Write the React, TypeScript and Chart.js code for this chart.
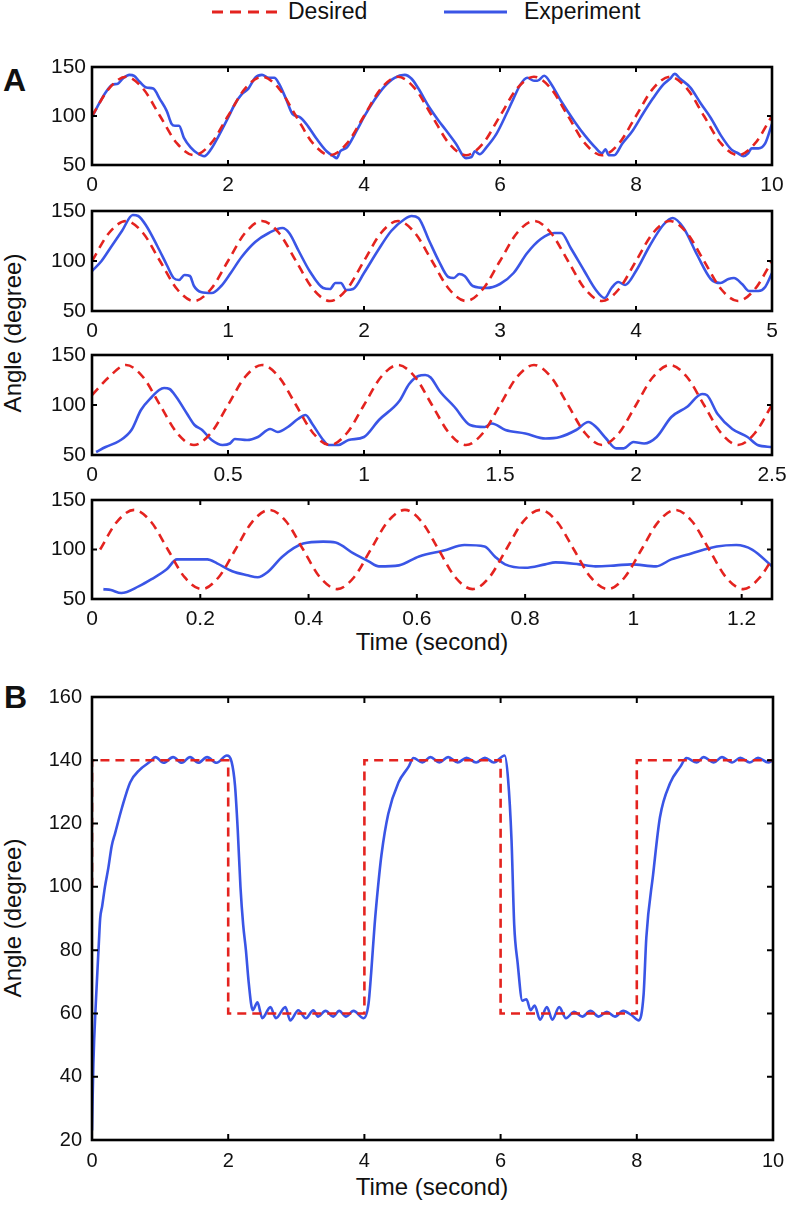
import React, { useEffect, useRef } from 'react';
import { Chart, registerables } from 'chart.js';
Chart.register(...registerables);

const RED = '#e4231f';
const BLUE = '#3a55e6';
const FONT = '"Liberation Sans", Arial, Helvetica, sans-serif';

// ---------- Panel A, row 1 (0-10 s) ----------
const A1_X_TICKS = [0, 2, 4, 6, 8, 10];
const A1_DES_T = [0, 0.25, 0.5, 0.75, 1, 1.25, 1.5, 1.75, 2, 2.25, 2.5, 2.75, 3, 3.25, 3.5, 3.75, 4, 4.25, 4.5, 4.75, 5, 5.25, 5.5, 5.75, 6, 6.25, 6.5, 6.75, 7, 7.25, 7.5, 7.75, 8, 8.25, 8.5, 8.75, 9, 9.25, 9.5, 9.75, 10];
const A1_DES_Y = [100, 128, 140, 128, 100, 72, 60, 72, 100, 128, 140, 128, 100, 72, 60, 72, 100, 128, 140, 128, 100, 72, 60, 72, 100, 128, 140, 128, 100, 72, 60, 72, 100, 128, 140, 128, 100, 72, 60, 72, 100];
const A1_EXP_T = [0, 0.1, 0.2, 0.3, 0.38, 0.45, 0.55, 0.62, 0.7, 0.8, 0.9, 1.0, 1.1, 1.17, 1.22, 1.28, 1.35, 1.45, 1.55, 1.65, 1.75, 1.85, 2.0, 2.1, 2.2, 2.3, 2.4, 2.5, 2.6, 2.68, 2.75, 2.85, 2.95, 3.05, 3.15, 3.3, 3.45, 3.55, 3.6, 3.65, 3.75, 3.9, 4.0, 4.15, 4.3, 4.45, 4.6, 4.7, 4.8, 4.95, 5.1, 5.2, 5.35, 5.5, 5.58, 5.63, 5.7, 5.8, 5.95, 6.1, 6.2, 6.3, 6.4, 6.5, 6.55, 6.65, 6.75, 6.9, 7.1, 7.25, 7.4, 7.5, 7.55, 7.6, 7.68, 7.8, 7.95, 8.1, 8.25, 8.4, 8.5, 8.57, 8.65, 8.8, 8.95, 9.1, 9.25, 9.4, 9.5, 9.58, 9.65, 9.7, 9.8, 9.9, 10];
const A1_EXP_Y = [99, 112, 124, 132, 133, 138, 142, 141, 135, 129, 128, 117, 105, 92, 90, 90, 78, 68, 62, 59, 66, 78, 98, 112, 122, 128, 139, 142, 139, 139, 133, 118, 102, 99, 92, 77, 64, 59, 57, 64, 68, 86, 99, 116, 130, 139, 142, 138, 128, 110, 95, 86, 72, 57, 58, 64, 61, 68, 82, 103, 118, 132, 139, 136, 136, 141, 133, 115, 94, 80, 68, 62, 66, 60, 60, 72, 85, 102, 118, 132, 138, 143, 138, 129, 113, 98, 80, 66, 62, 59, 62, 67, 67, 72, 92];

// ---------- Panel A, row 2 (0-5 s) ----------
const A2_X_TICKS = [0, 1, 2, 3, 4, 5];
const A2_DES_T = [0, 0.125, 0.25, 0.375, 0.5, 0.625, 0.75, 0.875, 1, 1.125, 1.25, 1.375, 1.5, 1.625, 1.75, 1.875, 2, 2.125, 2.25, 2.375, 2.5, 2.625, 2.75, 2.875, 3, 3.125, 3.25, 3.375, 3.5, 3.625, 3.75, 3.875, 4, 4.125, 4.25, 4.375, 4.5, 4.625, 4.75, 4.875, 5];
const A2_DES_Y = [100, 128, 140, 128, 100, 72, 60, 72, 100, 128, 140, 128, 100, 72, 60, 72, 100, 128, 140, 128, 100, 72, 60, 72, 100, 128, 140, 128, 100, 72, 60, 72, 100, 128, 140, 128, 100, 72, 60, 72, 100];
const A2_EXP_T = [0, 0.07, 0.14, 0.22, 0.3, 0.34, 0.4, 0.48, 0.55, 0.6, 0.64, 0.68, 0.72, 0.75, 0.8, 0.88, 0.95, 1.02, 1.1, 1.2, 1.3, 1.4, 1.45, 1.52, 1.6, 1.7, 1.75, 1.79, 1.83, 1.87, 1.92, 2.0, 2.1, 2.2, 2.3, 2.35, 2.4, 2.48, 2.55, 2.62, 2.66, 2.7, 2.74, 2.8, 2.9, 3.0, 3.1, 3.2, 3.3, 3.4, 3.45, 3.52, 3.62, 3.7, 3.77, 3.82, 3.87, 3.92, 4.0, 4.1, 4.2, 4.27, 4.35, 4.45, 4.55, 4.62, 4.68, 4.72, 4.78, 4.83, 4.9, 4.95, 5.0];
const A2_EXP_Y = [90, 100, 114, 130, 146, 145, 135, 115, 96, 83, 81, 86, 85, 75, 69, 68, 75, 88, 104, 119, 128, 133, 128, 110, 90, 73, 72, 78, 78, 71, 72, 88, 110, 130, 142, 145, 143, 120, 100, 84, 83, 87, 85, 75, 73, 77, 88, 108, 122, 128, 128, 113, 90, 72, 63, 73, 79, 76, 90, 115, 136, 143, 133, 106, 82, 78, 82, 83, 77, 70, 70, 74, 88];

// ---------- Panel A, row 3 (0-2.5 s) ----------
const A3_X_TICKS = [0, 0.5, 1, 1.5, 2, 2.5];
const A3_DES_T = [0, 0.0625, 0.125, 0.1875, 0.25, 0.3125, 0.375, 0.4375, 0.5, 0.5625, 0.625, 0.6875, 0.75, 0.8125, 0.875, 0.9375, 1, 1.0625, 1.125, 1.1875, 1.25, 1.3125, 1.375, 1.4375, 1.5, 1.5625, 1.625, 1.6875, 1.75, 1.8125, 1.875, 1.9375, 2, 2.0625, 2.125, 2.1875, 2.25, 2.3125, 2.375, 2.4375, 2.5];
const A3_DES_Y = [110, 128, 140, 128, 100, 72, 60, 72, 100, 128, 140, 128, 100, 72, 60, 72, 100, 128, 140, 128, 100, 72, 60, 72, 100, 128, 140, 128, 100, 72, 60, 72, 100, 128, 140, 128, 100, 72, 60, 72, 100];
const A3_EXP_T = [0.015, 0.05, 0.1, 0.145, 0.18, 0.22, 0.247, 0.265, 0.285, 0.31, 0.35, 0.377, 0.405, 0.44, 0.48, 0.507, 0.525, 0.57, 0.61, 0.655, 0.683, 0.72, 0.757, 0.785, 0.81, 0.85, 0.87, 0.906, 0.943, 1.0, 1.055, 1.13, 1.166, 1.2, 1.225, 1.245, 1.278, 1.333, 1.39, 1.444, 1.47, 1.52, 1.593, 1.667, 1.72, 1.78, 1.825, 1.853, 1.89, 1.927, 1.955, 1.99, 2.03, 2.076, 2.13, 2.187, 2.243, 2.26, 2.3, 2.354, 2.41, 2.447, 2.5];
const A3_EXP_Y = [53, 58, 64, 75, 95, 108, 115, 117, 116, 108, 91, 80, 75, 65, 60, 61.5, 66, 65, 68, 76, 73, 78, 86, 90, 81, 65, 60, 60, 65, 68, 85, 104, 121, 129, 130, 127.5, 114, 98, 80, 78, 81.5, 75, 71.5, 66.5, 68, 75, 83, 78, 66.5, 56.6, 56.6, 63, 61.5, 68, 88, 98, 111, 110, 91, 76, 68, 60, 58];

// ---------- Panel A, row 4 (0-1.25 s) ----------
const A4_X_TICKS = [0, 0.2, 0.4, 0.6, 0.8, 1, 1.2];
const A4_DES_T = [0.015, 0.046, 0.078, 0.109, 0.14, 0.171, 0.203, 0.234, 0.265, 0.296, 0.328, 0.359, 0.39, 0.421, 0.453, 0.484, 0.515, 0.546, 0.578, 0.609, 0.64, 0.671, 0.703, 0.734, 0.765, 0.796, 0.828, 0.859, 0.89, 0.921, 0.953, 0.984, 1.015, 1.046, 1.078, 1.109, 1.14, 1.171, 1.203, 1.234, 1.256];
const A4_DES_Y = [100, 128, 140, 128, 100, 72, 60, 72, 100, 128, 140, 128, 100, 72, 60, 72, 100, 128, 140, 128, 100, 72, 60, 72, 100, 128, 140, 128, 100, 72, 60, 72, 100, 128, 140, 128, 100, 72, 60, 72, 90];
const A4_EXP_T = [0.021, 0.035, 0.054, 0.087, 0.11, 0.138, 0.157, 0.213, 0.231, 0.259, 0.287, 0.306, 0.324, 0.352, 0.39, 0.427, 0.45, 0.483, 0.511, 0.53, 0.567, 0.604, 0.65, 0.688, 0.725, 0.744, 0.763, 0.8, 0.837, 0.856, 0.9, 0.93, 0.968, 0.996, 1.042, 1.07, 1.107, 1.154, 1.19, 1.22, 1.256];
const A4_EXP_Y = [60, 59, 56, 63, 70, 80, 90, 90, 86, 78, 74, 72, 77, 93, 106, 108, 107, 96, 88, 83, 84, 93, 99, 104.5, 103, 93, 85, 81.5, 85, 87, 85, 83, 84, 85, 83, 90, 96, 103, 104.5, 99.7, 83];

const A_Y_TICKS = [50, 100, 150];

// ---------- Panel B (step response) ----------
const B_X_TICKS = [0, 2, 4, 6, 8, 10];
const B_Y_TICKS = [20, 40, 60, 80, 100, 120, 140, 160];
const B_DES_T = [0, 0, 2, 2, 4, 4, 6, 6, 8, 8, 10];
const B_DES_Y = [100, 140, 140, 60, 60, 140, 140, 60, 60, 140, 140];
const B_EXP_T = [0, 0.02, 0.06, 0.1, 0.12, 0.15, 0.19, 0.24, 0.29, 0.34, 0.44, 0.56, 0.7, 0.85, 0.93, 1.05, 1.19, 1.32, 1.44, 1.56, 1.69, 1.83, 1.98, 2.05, 2.1, 2.14, 2.18, 2.22, 2.26, 2.3, 2.36, 2.43, 2.5, 2.62, 2.7, 2.84, 2.91, 3.03, 3.14, 3.25, 3.32, 3.43, 3.54, 3.63, 3.73, 3.84, 3.99, 4.06, 4.1, 4.15, 4.2, 4.25, 4.35, 4.5, 4.65, 4.72, 4.85, 4.97, 5.1, 5.23, 5.37, 5.5, 5.64, 5.77, 5.9, 6.06, 6.11, 6.16, 6.2, 6.25, 6.32, 6.38, 6.44, 6.5, 6.58, 6.68, 6.76, 6.86, 6.96, 7.08, 7.2, 7.32, 7.44, 7.56, 7.68, 7.8, 7.92, 8.03, 8.1, 8.14, 8.24, 8.34, 8.49, 8.64, 8.73, 8.88, 8.98, 9.13, 9.25, 9.4, 9.52, 9.66, 9.78, 9.93, 10];
const B_EXP_Y = [23, 44, 65, 82, 90, 94, 100, 106, 113, 117, 125, 133, 137, 139.5, 141, 139.2, 141, 139.2, 141, 139.2, 141, 139.2, 141.5, 139.5, 132, 118, 100, 88, 80, 70, 61, 63.5, 58.5, 62, 58.5, 62, 57.8, 61, 58.5, 61, 59, 60.8, 59, 60.8, 59, 60.8, 58.5, 63, 73, 88, 100, 110, 123, 133, 138, 140.7, 139.3, 141, 139.3, 141, 139.3, 140.8, 139.3, 140.8, 139.3, 141.5, 134, 115, 88, 76, 64, 64.5, 61, 62.5, 58, 62, 58, 62, 58.5, 60.5, 59, 60.8, 59, 60.5, 59, 60.8, 59.5, 57.8, 66, 84, 104, 122, 132.8, 138, 140.7, 139.3, 141, 139.3, 141, 139.3, 140.8, 139.3, 140.8, 139.3, 140];

type Panel = {
  top: number; bottom: number; left: number; right: number;
  xMin: number; xMax: number; yMin: number; yMax: number;
  xTicks: number[]; yTicks: number[];
  desT: number[]; desY: number[]; expT: number[]; expY: number[];
  fontSize: number; xPad: number; yPad: number; tickLen: number;
  desSmooth: boolean;
};

const PANELS: Panel[] = [
  { top: 67, bottom: 165, left: 92, right: 772, xMin: 0, xMax: 10, yMin: 50, yMax: 150, xTicks: A1_X_TICKS, yTicks: A_Y_TICKS, desT: A1_DES_T, desY: A1_DES_Y, expT: A1_EXP_T, expY: A1_EXP_Y, fontSize: 21, xPad: 8, yPad: 6, tickLen: 5, desSmooth: true },
  { top: 211, bottom: 311, left: 92, right: 772, xMin: 0, xMax: 5, yMin: 50, yMax: 150, xTicks: A2_X_TICKS, yTicks: A_Y_TICKS, desT: A2_DES_T, desY: A2_DES_Y, expT: A2_EXP_T, expY: A2_EXP_Y, fontSize: 21, xPad: 8, yPad: 6, tickLen: 5, desSmooth: true },
  { top: 355, bottom: 455, left: 92, right: 772, xMin: 0, xMax: 2.5, yMin: 50, yMax: 150, xTicks: A3_X_TICKS, yTicks: A_Y_TICKS, desT: A3_DES_T, desY: A3_DES_Y, expT: A3_EXP_T, expY: A3_EXP_Y, fontSize: 21, xPad: 8, yPad: 6, tickLen: 5, desSmooth: true },
  { top: 500, bottom: 599, left: 92, right: 772, xMin: 0, xMax: 1.256, yMin: 50, yMax: 150, xTicks: A4_X_TICKS, yTicks: A_Y_TICKS, desT: A4_DES_T, desY: A4_DES_Y, expT: A4_EXP_T, expY: A4_EXP_Y, fontSize: 21, xPad: 8, yPad: 6, tickLen: 5, desSmooth: true },
  { top: 697, bottom: 1140, left: 92, right: 773, xMin: 0, xMax: 10, yMin: 20, yMax: 160, xTicks: B_X_TICKS, yTicks: B_Y_TICKS, desT: B_DES_T, desY: B_DES_Y, expT: B_EXP_T, expY: B_EXP_Y, fontSize: 20, xPad: 9, yPad: 10, tickLen: 6, desSmooth: false },
];

const W = 792;
const PAD_TOP = 14;
const BOTTOM_SPACE = 44;

function PanelChart({ p }: { p: Panel }) {
  const ref = useRef<HTMLCanvasElement>(null);
  const H = p.bottom - p.top + PAD_TOP + BOTTOM_SPACE;
  useEffect(() => {
    if (!ref.current) return;
    const toXY = (ts: number[], ys: number[]) => ts.map((t, i) => ({ x: t, y: ys[i] }));
    const framePlugin = {
      id: 'frame',
      afterDatasetsDraw(chart: any) {
        const { ctx, chartArea: a } = chart;
        const xs = chart.scales.x;
        const ys = chart.scales.y;
        ctx.save();
        ctx.setLineDash([]);
        ctx.strokeStyle = '#000';
        ctx.lineWidth = 2;
        ctx.beginPath();
        for (const v of p.xTicks) {
          const px = xs.getPixelForValue(v);
          ctx.moveTo(px, a.bottom);
          ctx.lineTo(px, a.bottom - p.tickLen);
          ctx.moveTo(px, a.top);
          ctx.lineTo(px, a.top + p.tickLen);
        }
        for (const v of p.yTicks) {
          const py = ys.getPixelForValue(v);
          ctx.moveTo(a.left, py);
          ctx.lineTo(a.left + p.tickLen, py);
          ctx.moveTo(a.right, py);
          ctx.lineTo(a.right - p.tickLen, py);
        }
        ctx.stroke();
        ctx.lineWidth = 2.6;
        ctx.strokeRect(a.left, a.top, a.right - a.left, a.bottom - a.top);
        ctx.restore();
      },
    };
    const tickFont = { family: FONT, size: p.fontSize };
    const chart = new Chart(ref.current, {
      type: 'line',
      data: {
        datasets: [
          {
            label: 'Desired',
            data: toXY(p.desT, p.desY),
            borderColor: RED,
            borderWidth: 2.6,
            borderDash: [9, 6],
            pointRadius: 0,
            fill: false,
            cubicInterpolationMode: p.desSmooth ? 'monotone' : 'default',
            tension: 0,
          },
          {
            label: 'Experiment',
            data: toXY(p.expT, p.expY),
            borderColor: BLUE,
            borderWidth: 2.6,
            pointRadius: 0,
            fill: false,
            cubicInterpolationMode: 'monotone',
          },
        ],
      },
      options: {
        responsive: false,
        animation: false,
        devicePixelRatio: window.devicePixelRatio || 1,
        layout: { padding: { top: PAD_TOP, right: W - p.right, left: 0, bottom: 0 } },
        plugins: { legend: { display: false }, tooltip: { enabled: false } },
        scales: {
          x: {
            type: 'linear',
            min: p.xMin,
            max: p.xMax,
            afterBuildTicks: (s: any) => { s.ticks = p.xTicks.map((v) => ({ value: v })); },
            afterFit: (s: any) => { s.height = BOTTOM_SPACE; s.paddingLeft = 0; s.paddingRight = 0; },
            grid: { display: false, drawTicks: false, tickLength: 0 },
            border: { display: false },
            ticks: { padding: p.xPad, color: '#111', font: tickFont, maxRotation: 0, autoSkip: false, callback: (v: any) => String(v) },
          },
          y: {
            type: 'linear',
            min: p.yMin,
            max: p.yMax,
            afterBuildTicks: (s: any) => { s.ticks = p.yTicks.map((v) => ({ value: v })); },
            afterFit: (s: any) => { s.width = p.left; s.paddingTop = 0; s.paddingBottom = 0; },
            grid: { display: false, drawTicks: false, tickLength: 0 },
            border: { display: false },
            ticks: { padding: p.yPad, color: '#111', font: tickFont, autoSkip: false, callback: (v: any) => String(v) },
          },
        },
      } as any,
      plugins: [framePlugin],
    });
    return () => chart.destroy();
  }, []);
  return (
    <canvas
      ref={ref}
      width={W}
      height={H}
      style={{ position: 'absolute', left: 0, top: p.top - PAD_TOP, width: W, height: H }}
    />
  );
}

export default function App() {
  const textStyle = { fontFamily: FONT, fill: '#111' } as any;
  return (
    <div style={{ position: 'absolute', left: 0, top: 0, width: W, height: 1205, background: '#fff', overflow: 'hidden' }}>
      <svg width={W} height={1205} style={{ position: 'absolute', left: 0, top: 0 }}>
        <line x1={212} y1={12} x2={277} y2={12} stroke={RED} strokeWidth={3} strokeDasharray="11 7" />
        <text x={288} y={19} fontSize={23} style={textStyle}>Desired</text>
        <line x1={444} y1={12} x2={507} y2={12} stroke={BLUE} strokeWidth={3} />
        <text x={524} y={19} fontSize={23} style={textStyle}>Experiment</text>
        <text x={3} y={91} fontSize={32} fontWeight="bold" style={textStyle}>A</text>
        <text x={4} y={708} fontSize={32} fontWeight="bold" style={textStyle}>B</text>
        <text transform="translate(21,333) rotate(-90)" textAnchor="middle" fontSize={24} style={textStyle}>Angle (degree)</text>
        <text x={432} y={650} textAnchor="middle" fontSize={24} style={textStyle}>Time (second)</text>
        <text transform="translate(21,918) rotate(-90)" textAnchor="middle" fontSize={24} style={textStyle}>Angle (degree)</text>
        <text x={432} y={1195} textAnchor="middle" fontSize={24} style={textStyle}>Time (second)</text>
      </svg>
      {PANELS.map((p, i) => (
        <PanelChart key={i} p={p} />
      ))}
    </div>
  );
}
